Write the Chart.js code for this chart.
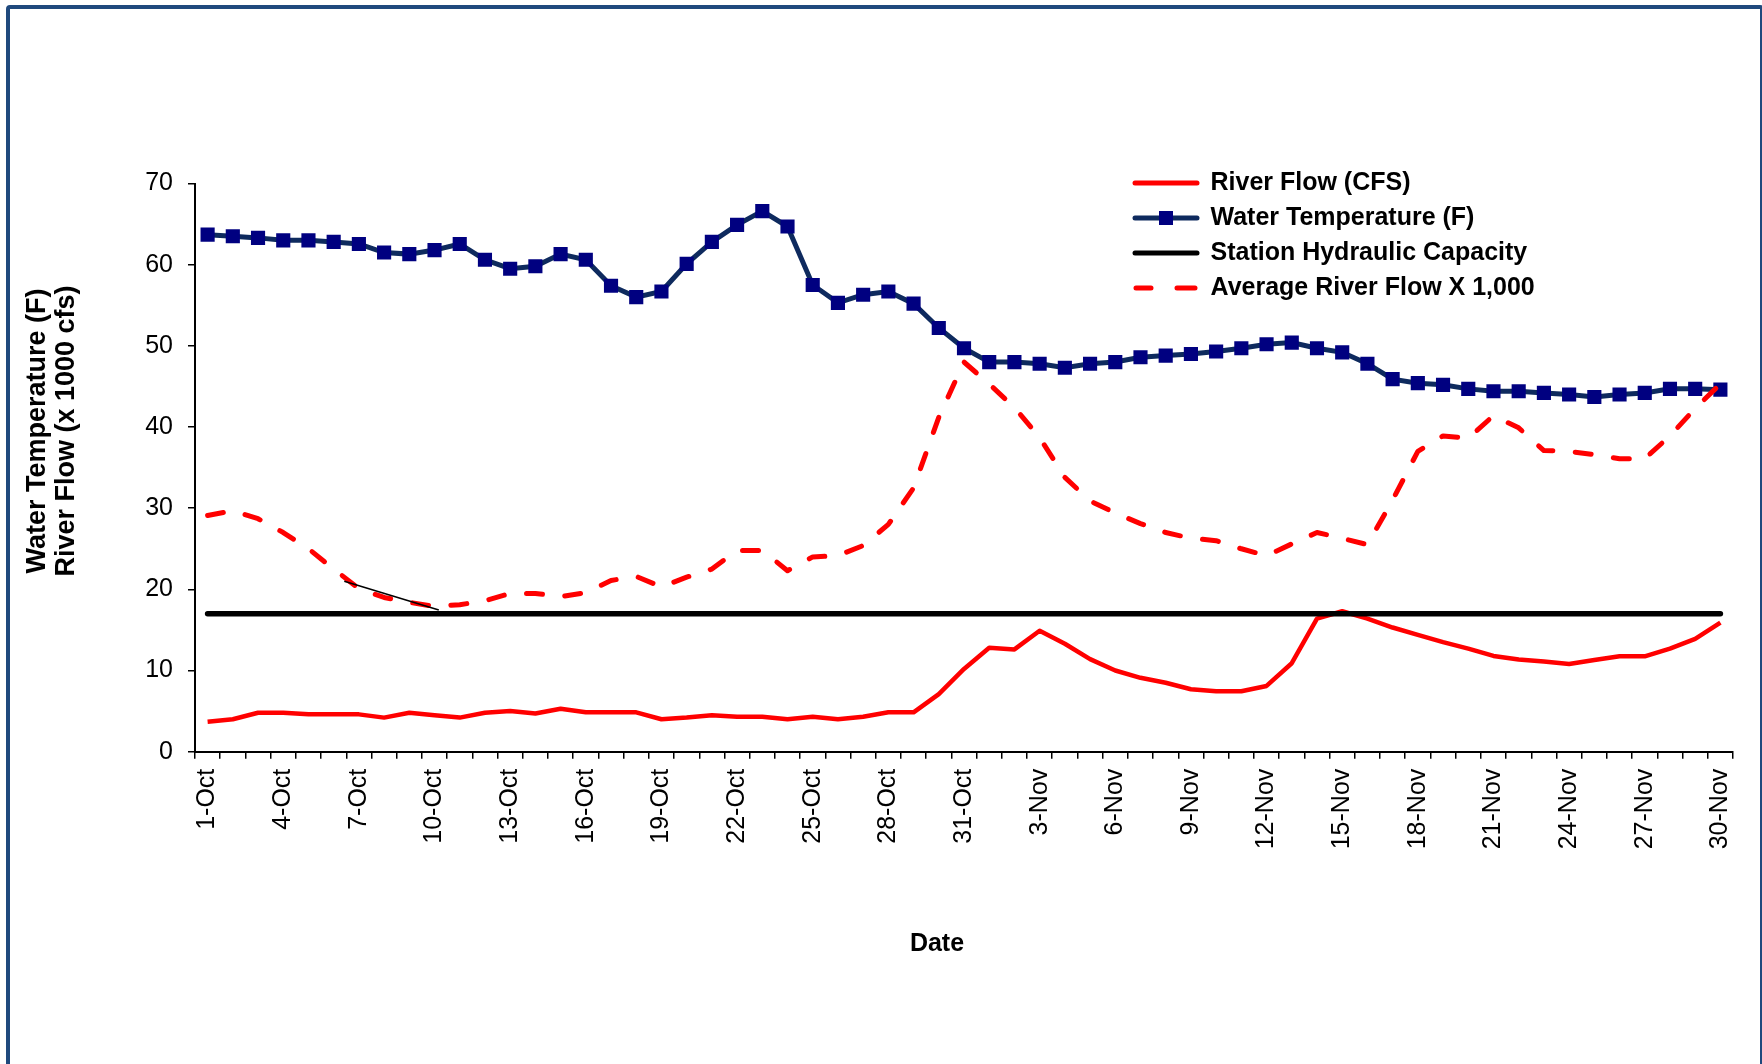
<!DOCTYPE html>
<html><head><meta charset="utf-8">
<script src="https://cdn.jsdelivr.net/npm/chart.js@4.4.1/dist/chart.umd.min.js"></script>
<style>
html,body{margin:0;padding:0;background:#fff;overflow:hidden;}
#wrap{position:relative;width:1762px;height:1064px;overflow:hidden;background:#fff;}
#c{position:absolute;left:0;top:0;}
#frame{position:absolute;left:6px;top:5px;width:1750px;height:1100px;border:4px solid #1F497D;border-radius:4px;pointer-events:none;}
</style></head><body>
<div id="wrap"><canvas id="c" width="1762" height="1064"></canvas><div id="frame"></div></div>
<script>
// ---------- data ----------
const dates = ['1-Oct','2-Oct','3-Oct','4-Oct','5-Oct','6-Oct','7-Oct','8-Oct','9-Oct','10-Oct',
  '11-Oct','12-Oct','13-Oct','14-Oct','15-Oct','16-Oct','17-Oct','18-Oct','19-Oct','20-Oct',
  '21-Oct','22-Oct','23-Oct','24-Oct','25-Oct','26-Oct','27-Oct','28-Oct','29-Oct','30-Oct','31-Oct',
  '1-Nov','2-Nov','3-Nov','4-Nov','5-Nov','6-Nov','7-Nov','8-Nov','9-Nov','10-Nov',
  '11-Nov','12-Nov','13-Nov','14-Nov','15-Nov','16-Nov','17-Nov','18-Nov','19-Nov','20-Nov',
  '21-Nov','22-Nov','23-Nov','24-Nov','25-Nov','26-Nov','27-Nov','28-Nov','29-Nov','30-Nov'];

const shownDateLabels = ['1-Oct','4-Oct','7-Oct','10-Oct','13-Oct','16-Oct','19-Oct','22-Oct','25-Oct',
  '28-Oct','31-Oct','3-Nov','6-Nov','9-Nov','12-Nov','15-Nov','18-Nov','21-Nov','24-Nov','27-Nov','30-Nov'];

const riverFlow = [3.7, 4.0, 4.8, 4.8, 4.6, 4.6, 4.6, 4.2, 4.8, 4.5, 4.2, 4.8, 5.0, 4.7, 5.3,
  4.85, 4.85, 4.85, 4.0, 4.2, 4.5, 4.3, 4.3, 4.0, 4.3, 4.0, 4.3, 4.85, 4.85, 7.1, 10.2,
  12.8, 12.6, 14.9, 13.3, 11.4, 10.0, 9.1, 8.5, 7.7, 7.45, 7.45, 8.1, 10.9, 16.4, 17.3,
  16.4, 15.3, 14.4, 13.5, 12.7, 11.8, 11.35, 11.1, 10.8, 11.3, 11.75, 11.75, 12.7, 13.9, 15.9];

const waterTemp = [63.7, 63.5, 63.3, 63.0, 63.0, 62.8, 62.55, 61.5, 61.3, 61.8, 62.55, 60.6, 59.5, 59.8, 61.3,
  60.6, 57.4, 56.0, 56.7, 60.1, 62.8, 64.9, 66.6, 64.7, 57.5, 55.3, 56.3, 56.7, 55.2, 52.2, 49.7,
  48.0, 48.0, 47.8, 47.3, 47.8, 48.0, 48.6, 48.8, 49.0, 49.3, 49.7, 50.2, 50.4, 49.7, 49.2,
  47.8, 45.9, 45.4, 45.2, 44.7, 44.4, 44.4, 44.2, 44.0, 43.7, 44.0, 44.2, 44.7, 44.7, 44.6];

const hydraulicCapacity = [17, 17, 17, 17, 17, 17, 17, 17, 17, 17, 17, 17, 17, 17, 17,
  17, 17, 17, 17, 17, 17, 17, 17, 17, 17, 17, 17, 17, 17, 17, 17,
  17, 17, 17, 17, 17, 17, 17, 17, 17, 17, 17, 17, 17, 17, 17,
  17, 17, 17, 17, 17, 17, 17, 17, 17, 17, 17, 17, 17, 17, 17];

const avgFlow = [29.1, 29.7, 28.7, 27.0, 25.0, 22.5, 20.1, 19.0, 18.4, 17.9, 18.1, 18.6, 19.5, 19.5, 19.1,
  19.6, 21.1, 21.6, 20.3, 21.5, 22.5, 24.8, 24.8, 22.3, 24.0, 24.15, 25.4, 28.0, 32.5, 41.2, 48.0,
  45.3, 42.4, 38.7, 33.8, 30.9, 29.4, 28.1, 27.0, 26.3, 26.0, 25.0, 24.15, 25.6, 27.0, 26.3,
  25.5, 31.0, 37.0, 38.9, 38.6, 41.4, 39.9, 37.1, 37.0, 36.6, 36.1, 36.1, 38.9, 42.3, 45.3];

// thin black stroke drawn across the dashed curve (position in category units)
const strayX = [5.42, 9.17];
const strayY = [21.0, 17.46];

const seriesNames = ['River Flow (CFS)', 'Water Temperature (F)', 'Station Hydraulic Capacity', 'Average River Flow X 1,000'];
const yTitleLines = ['Water Temperature (F)', 'River Flow (x 1000 cfs)'];
const xTitle = 'Date';
const yMin = 0, yMax = 70, yStep = 10;

// ---------- styling ----------
const FONT = '"Liberation Sans", Arial, Helvetica, sans-serif';
Chart.defaults.font.family = FONT;
Chart.defaults.color = '#000';

function makeSample(draw) {
  const c = document.createElement('canvas');
  c.width = 68; c.height = 20;
  const g = c.getContext('2d');
  g.lineCap = 'round';
  draw(g);
  return c;
}
const legendSamples = [
  makeSample(g => { g.strokeStyle = '#FF0000'; g.lineWidth = 5; g.beginPath(); g.moveTo(3, 10); g.lineTo(65, 10); g.stroke(); }),
  makeSample(g => { g.strokeStyle = '#0E2A5E'; g.lineWidth = 5; g.beginPath(); g.moveTo(3, 10); g.lineTo(65, 10); g.stroke();
                    g.fillStyle = '#000080'; g.fillRect(27, 3, 14, 14); }),
  makeSample(g => { g.strokeStyle = '#000000'; g.lineWidth = 5; g.beginPath(); g.moveTo(3, 10); g.lineTo(65, 10); g.stroke(); }),
  makeSample(g => { g.strokeStyle = '#FF0000'; g.lineWidth = 5; g.beginPath(); g.moveTo(4, 10); g.lineTo(19, 10);
                    g.moveTo(45, 10); g.lineTo(63, 10); g.stroke(); })
];

const tweaks = {
  id: 'tweaks',
  afterUpdate(chart) {
    const lg = chart.legend;
    if (lg) {
      const w = lg.width;
      lg.left = 1124; lg.top = 160.5;
      lg.width = w; lg.height = 400;
      lg.right = lg.left + w; lg.bottom = lg.top + 400;
    }
  },
  afterDraw(chart) {
    const ctx = chart.ctx;
    ctx.save();
    ctx.fillStyle = '#000';
    ctx.font = 'bold 25px ' + FONT;
    ctx.textAlign = 'center';
    ctx.textBaseline = 'middle';
    ctx.fillText(xTitle, 937, 944);
    ctx.font = 'bold 27px ' + FONT;
    [38, 67].forEach((x, i) => {
      ctx.save();
      ctx.translate(x, 431);
      ctx.rotate(-Math.PI / 2);
      ctx.fillText(yTitleLines[i], 0, 0);
      ctx.restore();
    });
    ctx.restore();
  }
};

new Chart(document.getElementById('c'), {
  type: 'line',
  data: {
    labels: dates,
    datasets: [
      { label: seriesNames[0], data: riverFlow, borderColor: '#FF0000', backgroundColor: '#FF0000',
        borderWidth: 4.5, borderJoinStyle: 'round', pointRadius: 0, tension: 0, order: 4 },
      { label: seriesNames[1], data: waterTemp, borderColor: '#0E2A5E', backgroundColor: '#000080',
        borderWidth: 5, pointStyle: 'rect', pointRadius: 10, pointBorderWidth: 0,
        pointBackgroundColor: '#000080', pointBorderColor: '#000080', tension: 0, order: 3 },
      { label: seriesNames[2], data: hydraulicCapacity, borderColor: '#000000', backgroundColor: '#000000',
        borderWidth: 5.5, borderCapStyle: 'round', pointRadius: 0, order: 2 },
      { label: seriesNames[3], data: avgFlow, borderColor: '#FF0000', backgroundColor: '#FF0000',
        borderWidth: 5, borderDash: [16, 22.5], borderCapStyle: 'round', borderJoinStyle: 'round',
        pointRadius: 0, tension: 0, order: 1 },
      { label: 'stroke', data: strayX.map((x, i) => ({ x: x, y: strayY[i] })), xAxisID: 'x2',
        borderColor: '#000000', borderWidth: 1.5, pointRadius: 0, order: 0 }
    ]
  },
  options: {
    responsive: false,
    animation: false,
    devicePixelRatio: 1,
    events: [],
    layout: { padding: { left: 0, top: 183.5, right: 29, bottom: 212.3 } },
    scales: {
      x: {
        type: 'category',
        offset: true,
        grid: { offset: true, drawOnChartArea: false, drawTicks: true, tickLength: 7, color: '#000', lineWidth: 1.5 },
        border: { display: true, color: '#000', width: 2 },
        ticks: {
          autoSkip: false, maxRotation: 90, minRotation: 90, padding: 10,
          color: '#000', font: { size: 25, family: FONT },
          callback: function (value) { const lab = this.getLabelForValue(value); return shownDateLabels.includes(lab) ? lab : ''; }
        },
        afterFit: s => { s.height = 100; }
      },
      x2: { type: 'linear', display: false, min: -0.5, max: 60.5, offset: false },
      y: {
        min: yMin, max: yMax,
        grid: { drawOnChartArea: false, drawTicks: true, tickLength: 7, color: '#000', lineWidth: 1.5 },
        border: { display: true, color: '#000', width: 2 },
        ticks: { stepSize: yStep, padding: 15, color: '#000', font: { size: 25, family: FONT } },
        afterFit: s => { s.width = 195; }
      }
    },
    plugins: {
      title: { display: false },
      tooltip: { enabled: false },
      legend: {
        display: true,
        position: 'chartArea',
        align: 'start',
        labels: {
          usePointStyle: true,
          pointStyleWidth: 64,
          padding: 10,
          color: '#000',
          font: { size: 25, weight: 'bold', family: FONT },
          generateLabels: function (chart) {
            const items = Chart.defaults.plugins.legend.labels.generateLabels(chart);
            return items.filter(it => it.datasetIndex < 4)
              .sort((a, b) => a.datasetIndex - b.datasetIndex)
              .map(it => { it.pointStyle = legendSamples[it.datasetIndex]; it.lineDash = []; it.rotation = 0; return it; });
          }
        }
      }
    }
  },
  plugins: [tweaks]
});
</script>
</body></html>
